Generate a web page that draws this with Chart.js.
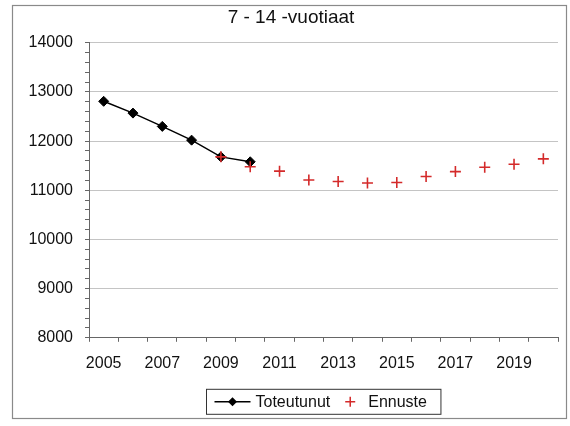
<!DOCTYPE html>
<html>
<head>
<meta charset="utf-8">
<script src="https://cdn.jsdelivr.net/npm/chart.js@4"></script>
<style>
  html, body { margin: 0; padding: 0; background: #fff; }
  #wrap { width: 570px; height: 426px; }
</style>
</head>
<body>
<div id="wrap"><canvas id="chart"></canvas></div>
<script>
var years = ['2005','2006','2007','2008','2009','2010','2011','2012','2013','2014','2015','2016','2017','2018','2019','2020'];
var toteutunut = [12810, 12570, 12300, 12020, 11680, 11580, null, null, null, null, null, null, null, null, null, null];
var ennuste = [null, null, null, null, 11680, 11480, 11390, 11210, 11180, 11150, 11160, 11280, 11380, 11470, 11530, 11640];
var seriesNames = ['Toteutunut', 'Ennuste'];
var chartTitle = '7 - 14 -vuotiaat';

var FONT = 'Arial, "Liberation Sans", sans-serif';
var RED = '#d42a2a';

// outer frame of the chart + legend box drawn under the plot
var framePlugin = {
  id: 'frame',
  beforeDraw: function(chart) {
    var c = chart.ctx;
    c.save();
    c.fillStyle = '#fff';
    c.fillRect(0, 0, chart.width, chart.height);
    c.strokeStyle = '#8a8a8a';
    c.lineWidth = 1.2;
    c.strokeRect(12.5, 5.5, chart.width - 16, chart.height - 13);
    c.restore();
  },
  afterDraw: function(chart) {
    var c = chart.ctx, a = chart.chartArea;
    c.save();
    c.font = '16px ' + FONT;
    var w1 = c.measureText(seriesNames[0]).width;
    var w2 = c.measureText(seriesNames[1]).width;
    var boxW = 11 + 36 + 5 + w1 + 14 + 12 + 12 + w2 + 11;
    var boxH = 25;
    var x0 = Math.round((a.left + a.right) / 2 - boxW / 2) + 0.5;
    var y0 = a.bottom + 51.5;
    var my = y0 + boxH / 2;
    c.strokeStyle = '#333';
    c.lineWidth = 1;
    c.strokeRect(x0, y0, boxW, boxH);
    // Toteutunut marker
    var lx = x0 + 8;
    c.strokeStyle = '#000';
    c.lineWidth = 1.5;
    c.beginPath(); c.moveTo(lx, my); c.lineTo(lx + 36, my); c.stroke();
    c.fillStyle = '#000';
    c.beginPath();
    c.moveTo(lx + 18, my - 4.5); c.lineTo(lx + 22.5, my);
    c.lineTo(lx + 18, my + 4.5); c.lineTo(lx + 13.5, my);
    c.closePath(); c.fill();
    c.fillStyle = '#111';
    c.textBaseline = 'middle';
    c.fillText(seriesNames[0], lx + 41, my + 1);
    // Ennuste marker
    var cx = lx + 41 + w1 + 14 + 6;
    c.strokeStyle = RED;
    c.lineWidth = 1.5;
    c.beginPath();
    c.moveTo(cx - 5, my); c.lineTo(cx + 5, my);
    c.moveTo(cx, my - 5); c.lineTo(cx, my + 5);
    c.stroke();
    c.fillText(seriesNames[1], cx + 18, my + 1);
    c.restore();
  }
};

new Chart(document.getElementById('chart'), {
  type: 'line',
  data: {
    labels: years,
    datasets: [
      {
        label: seriesNames[0],
        data: toteutunut,
        borderColor: '#000',
        backgroundColor: '#000',
        borderWidth: 1.5,
        pointStyle: 'rectRot',
        pointRadius: 5,
        pointBorderWidth: 1,
        spanGaps: false,
        order: 1
      },
      {
        label: seriesNames[1],
        data: ennuste,
        showLine: false,
        borderColor: RED,
        backgroundColor: RED,
        pointStyle: 'cross',
        pointRadius: 5.5,
        pointBorderWidth: 1.6,
        order: 0
      }
    ]
  },
  options: {
    responsive: true,
    maintainAspectRatio: false,
    animation: false,
    layout: { padding: { left: 24, right: 12, top: 6, bottom: 41 } },
    plugins: {
      legend: { display: false },
      tooltip: { enabled: false },
      title: {
        display: true,
        text: chartTitle,
        color: '#111',
        font: { family: FONT, size: 19, weight: 'normal' },
        padding: { top: 0, bottom: 14 }
      }
    },
    scales: {
      x: {
        offset: true,
        grid: { offset: true, drawOnChartArea: false, drawTicks: true, tickLength: 4, tickColor: '#666' },
        border: { color: '#666', width: 1 },
        ticks: {
          autoSkip: false,
          maxRotation: 0,
          padding: 12,
          color: '#111',
          font: { family: FONT, size: 16 },
          callback: function(v, i) { return i % 2 === 0 ? years[i] : ''; }
        }
      },
      y: {
        min: 8000,
        max: 14000,
        afterFit: function(scale) { scale.width = 65; },
        grid: {
          color: function(ctx) { return ctx.tick && ctx.tick.value % 1000 === 0 ? '#c4c4c4' : 'rgba(0,0,0,0)'; },
          tickColor: '#666',
          tickLength: 4
        },
        border: { color: '#666', width: 1 },
        ticks: {
          stepSize: 200,
          autoSkip: false,
          padding: 12,
          color: '#111',
          font: { family: FONT, size: 16 },
          callback: function(v) { return v % 1000 === 0 ? v : ''; }
        }
      }
    }
  },
  plugins: [framePlugin]
});
</script>
</body>
</html>
